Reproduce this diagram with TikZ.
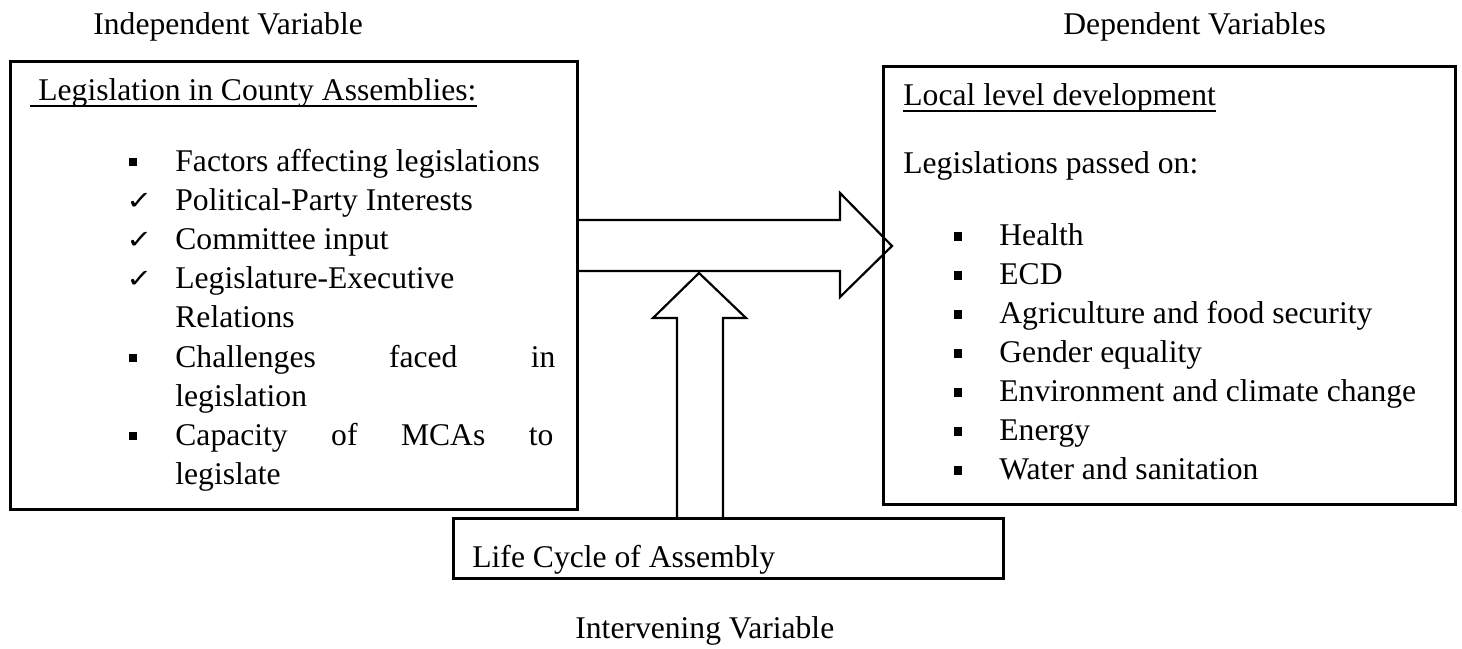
\documentclass[tikz,border=0pt]{standalone}
\usepackage{fontspec}
\setmainfont{Liberation Serif}
\newfontfamily\symfont{DejaVu Sans}
\begin{document}
\begin{tikzpicture}[x=0.5pt,y=-0.5pt,line join=miter,
  box/.style={draw,line width=1.3pt,rectangle,inner sep=0pt,anchor=north west},
  txt/.style={anchor=base west,inner sep=0pt,font=\fontsize{15.8}{19}\selectfont},
  sq/.style={fill,rectangle,inner sep=0pt,minimum size=4.3pt},
  chk/.style={anchor=base west,inner sep=0pt,font=\symfont\fontsize{13.5}{14}\selectfont},
  blk/.style={draw,line width=1.1pt},
  uline/.style={line width=0.8pt}]
\useasboundingbox (0,0) rectangle (1462,648);

% boxes
\node[box,minimum width=283.5pt,minimum height=224pt] (lbox) at (9,60) {};
\node[box,minimum width=286pt,minimum height=219pt] (rbox) at (882,65) {};
\node[box,minimum width=275pt,minimum height=30pt] (life) at (452,517) {};

% titles
\node[txt] (indep) at (93,34) {Independent Variable};
\node[txt] (dep) at (1063,34) {Dependent Variables};
\node[txt] (interv) at (575,638) {Intervening Variable};
\node[txt] (lifet) at (472,567) {Life Cycle of Assembly};

% left box content
\node[txt] (lhead) at (38,100) {Legislation in County Assemblies:};
\draw[uline] (30,106) -- (lhead.base east |- 0,106);
\node[sq] (b1) at (133,162) {};
\node[txt] (l1) at (175,171) {Factors affecting legislations};
\node[chk] (c1) at (126,209) {\scalebox{1.15}[0.95]{✓}};
\node[txt] (l2) at (175,210) {Political-Party Interests};
\node[chk] (c2) at (126,248) {\scalebox{1.15}[0.95]{✓}};
\node[txt] (l3) at (175,249) {Committee input};
\node[chk] (c3) at (126,287) {\scalebox{1.15}[0.95]{✓}};
\node[txt] (l4) at (175,288) {Legislature-Executive};
\node[txt] (l5) at (175,327) {Relations};
\node[sq] (b2) at (133,358) {};
\node[txt] (l6) at (175,367) {\makebox[190pt][s]{Challenges faced in}};
\node[txt] (l7) at (175,406) {legislation};
\node[sq] (b3) at (133,436) {};
\node[txt] (l8) at (175,445) {\makebox[189pt][s]{Capacity of MCAs to}};
\node[txt] (l9) at (175,484) {legislate};

% right box content
\node[txt] (rhead) at (903,105) {Local level development};
\draw[uline] (903,111) -- (rhead.base east |- 0,111);
\node[txt] (rsub) at (903,173) {Legislations passed on:};
\foreach \i/\t in {0/Health,1/ECD,2/Agriculture and food security,3/Gender equality,4/Environment and climate change,5/Energy,6/Water and sanitation}{
  \node[sq] (rb\i) at (958,{245+39*\i-8.5}) {};
  \node[txt] (r\i) at (999,{245+39*\i}) {\t};
}

% block arrows
\coordinate (ha) at (0,220);
\coordinate (hb) at (0,271);
\draw[blk] (lbox.east |- ha) -- (840,220) -- (840,193) -- (892,246) -- (840,297) -- (840,271) -- (lbox.east |- hb);
\coordinate (va) at (677,0);
\coordinate (vb) at (723,0);
\draw[blk] (va |- life.north) -- (677,318) -- (653,318) -- (699,273) -- (746,318) -- (723,318) -- (vb |- life.north);
\end{tikzpicture}
\end{document}
